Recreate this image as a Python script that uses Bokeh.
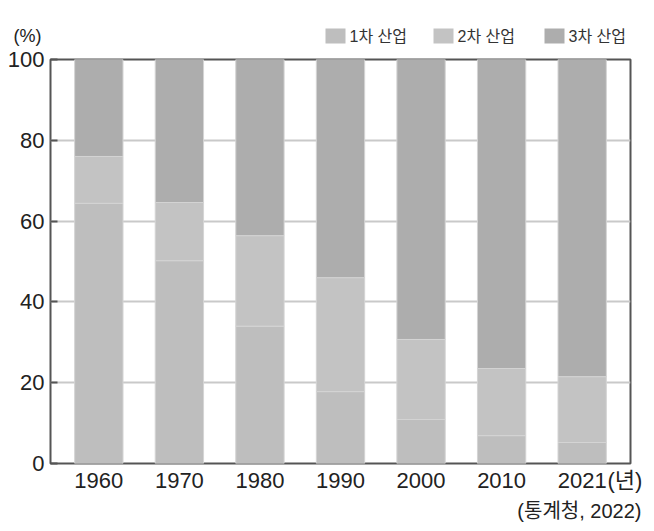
from bokeh.plotting import figure
from bokeh.models import (Range1d, FixedTicker, ColumnDataSource, Title, LinearAxis)
from bokeh.core.properties import value
from bokeh.layouts import column
from bokeh.embed import file_html
from bokeh.resources import INLINE

years = ["1960", "1970", "1980", "1990", "2000", "2010", "2021"]
primary = [64.4, 50.2, 34.0, 17.8, 10.9, 6.9, 5.2]
secondary = [11.6, 14.4, 22.4, 28.2, 19.8, 16.6, 16.3]
tertiary = [24.0, 35.4, 43.6, 54.0, 69.3, 76.5, 78.5]
sectors = ["1차 산업", "2차 산업", "3차 산업"]
y_ticks = [0, 20, 40, 60, 80, 100]
unit_y = "(%)"
unit_x = "(년)"
source_note = "(통계청, 2022)"
colors = ["#bebebe", "#c3c3c3", "#adadad"]

FONT = "Liberation Sans, Noto Sans CJK KR, sans-serif"
TXT = "#222222"
W = 646
LEFT, RIGHT = 50, 16
FRAME_L, FRAME_R = LEFT, W - RIGHT

# ---------------- header (unit label + legend) ----------------
HEAD_H = 47
head = figure(width=W, height=HEAD_H, x_range=Range1d(FRAME_L, FRAME_R), y_range=Range1d(0, HEAD_H),
              output_backend="svg", toolbar_location=None,
              x_axis_type=None, y_axis_type=None,
              min_border_left=LEFT, min_border_right=RIGHT, min_border_top=0, min_border_bottom=0)
head.grid.visible = False
head.outline_line_color = None

unit_axis = LinearAxis(ticker=FixedTicker(ticks=[12]), major_label_overrides={12: unit_y},
                       axis_line_color=None, major_tick_line_color=None, minor_tick_line_color=None,
                       major_label_standoff=3, major_label_text_font=FONT,
                       major_label_text_font_size="18px", major_label_text_color=TXT)
head.add_layout(unit_axis, "left")

# legend drawn as swatches + labels (screen-pixel data space of the header)
sw_left = [325, 433, 544]
sw_w, sw_h, gap = 20, 15, 4
leg_y = HEAD_H - 35.5
head.rect(x=[s + sw_w / 2 for s in sw_left], y=[leg_y] * 3, width=sw_w, height=sw_h,
          fill_color=colors, line_color=None)
head.text(x=[s + sw_w + gap for s in sw_left], y=[leg_y] * 3, text=sectors,
          text_font=value(FONT), text_font_size="16px", text_color="#333333",
          text_align="left", text_baseline="middle")

# ---------------- main chart ----------------
xs = list(range(len(years)))
source = ColumnDataSource(dict(x=xs, year=years, s1=primary, s2=secondary, s3=tertiary))

p = figure(
    x_range=Range1d(-0.6, len(years) - 0.4),
    y_range=Range1d(0, 100),
    width=W, height=484,
    output_backend="svg", toolbar_location=None,
    min_border_left=LEFT, min_border_right=RIGHT, min_border_top=12, min_border_bottom=68,
)

rs = p.vbar_stack(["s1", "s2", "s3"], x="x", width=0.6, source=source,
                  fill_color=colors, line_color="#d4d4d4", line_width=1)

p.outline_line_color = "#555555"
p.outline_line_width = 2
p.xgrid.grid_line_color = None
p.ygrid.grid_line_color = "#c9c9c9"
p.ygrid.grid_line_width = 2

p.yaxis.ticker = FixedTicker(ticks=y_ticks)
p.yaxis.minor_tick_line_color = None
p.yaxis.major_tick_in = 7
p.yaxis.major_tick_out = 0
p.yaxis.major_tick_line_color = "#555555"
p.yaxis.major_tick_line_width = 2
p.yaxis.axis_line_color = None
p.yaxis.major_label_standoff = 6
p.yaxis.major_label_text_font = FONT
p.yaxis.major_label_text_font_size = "22px"
p.yaxis.major_label_text_color = TXT

unit_pos = len(years) - 1 + 0.53
p.xaxis.ticker = FixedTicker(ticks=xs + [unit_pos])
overrides = {i: y for i, y in zip(xs, years)}
overrides[unit_pos] = unit_x
p.xaxis.major_label_overrides = overrides
p.xaxis.major_tick_line_color = None
p.xaxis.minor_tick_line_color = None
p.xaxis.axis_line_color = None
p.xaxis.major_label_standoff = -2
p.xaxis.major_label_text_font = FONT
p.xaxis.major_label_text_font_size = "22px"
p.xaxis.major_label_text_color = TXT

p.add_layout(Title(text=source_note, align="right", offset=-11, standoff=4,
                   text_font=FONT, text_font_size="20px", text_font_style="normal",
                   text_color=TXT), "below")

layout = column(head, p, spacing=0)
open("out.html", "w").write(file_html(layout, INLINE))
